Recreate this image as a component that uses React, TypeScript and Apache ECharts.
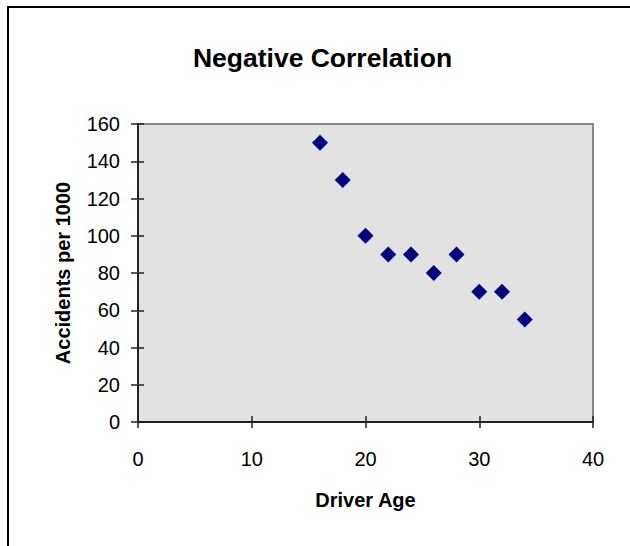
import React, { useEffect, useRef } from "react";
import * as echarts from "echarts";

const titleText = "Negative Correlation";
const xAxisName = "Driver Age";
const yAxisName = "Accidents per 1000";
const driverAge = [16, 18, 20, 22, 24, 26, 28, 30, 32, 34];
const accidents = [150, 130, 100, 90, 90, 80, 90, 70, 70, 55];

const FONT = "'Liberation Sans', Arial, sans-serif";

export default function App() {
  const ref = useRef<HTMLDivElement>(null);
  useEffect(() => {
    if (!ref.current) return;
    const chart = echarts.init(ref.current, null, { renderer: "svg" });
    const data = driverAge.map((x, i) => [x, accidents[i]]);
    const tickLabel = { fontFamily: FONT, fontSize: 20, color: "#000" };
    const baseX = {
      type: "value",
      min: 0,
      max: 40,
      interval: 10,
      position: "bottom",
      splitLine: { show: false },
      axisLine: { show: true, onZero: false, lineStyle: { color: "#222", width: 2 } },
    };
    const baseY = {
      type: "value",
      min: 0,
      max: 160,
      interval: 20,
      position: "left",
      splitLine: { show: false },
      axisLine: { show: true, onZero: false, lineStyle: { color: "#222", width: 2 } },
    };
    chart.setOption({
      animation: false,
      backgroundColor: "#fff",
      grid: {
        left: 138,
        top: 124,
        width: 455,
        height: 298,
        show: true,
        backgroundColor: "#e2e2e2",
        borderColor: "#888",
        borderWidth: 2,
      },
      xAxis: [
        {
          ...baseX,
          name: xAxisName,
          nameLocation: "middle",
          nameGap: 68,
          nameTextStyle: { fontFamily: FONT, fontSize: 20, fontWeight: "bold", color: "#000" },
          axisTick: { show: true, inside: false, length: 6, lineStyle: { color: "#222", width: 1.5 } },
          axisLabel: { ...tickLabel, margin: 27 },
        },
        {
          ...baseX,
          axisTick: { show: true, inside: true, length: 6, lineStyle: { color: "#222", width: 1.5 } },
          axisLabel: { show: false },
        },
      ],
      yAxis: [
        {
          ...baseY,
          name: yAxisName,
          nameLocation: "middle",
          nameGap: 65,
          nameTextStyle: { fontFamily: FONT, fontSize: 20, fontWeight: "bold", color: "#000" },
          axisTick: { show: true, inside: false, length: 7, lineStyle: { color: "#222", width: 1.5 } },
          axisLabel: { ...tickLabel, margin: 18 },
        },
        {
          ...baseY,
          axisTick: { show: true, inside: true, length: 6, lineStyle: { color: "#222", width: 1.5 } },
          axisLabel: { show: false },
        },
      ],
      graphic: [
        {
          type: "text",
          x: 322.5,
          y: 58,
          style: {
            text: titleText,
            fontFamily: FONT,
            fontSize: 26.5,
            fontWeight: "bold",
            fill: "#000",
            align: "center",
            verticalAlign: "middle",
          },
        },
        {
          type: "line",
          shape: { x1: 8, y1: 7, x2: 8, y2: 546 },
          style: { stroke: "#000", lineWidth: 2 },
        },
        {
          type: "line",
          shape: { x1: 7, y1: 7, x2: 630, y2: 7 },
          style: { stroke: "#000", lineWidth: 2 },
        },
      ],
      series: [
        {
          type: "scatter",
          xAxisIndex: 0,
          yAxisIndex: 0,
          data,
          symbol: "diamond",
          symbolSize: 16,
          itemStyle: { color: "#000080", opacity: 1 },
        },
      ],
    });
    return () => chart.dispose();
  }, []);
  return (
    <div
      ref={ref}
      style={{ position: "fixed", left: 0, top: 0, width: 630, height: 546 }}
    />
  );
}
